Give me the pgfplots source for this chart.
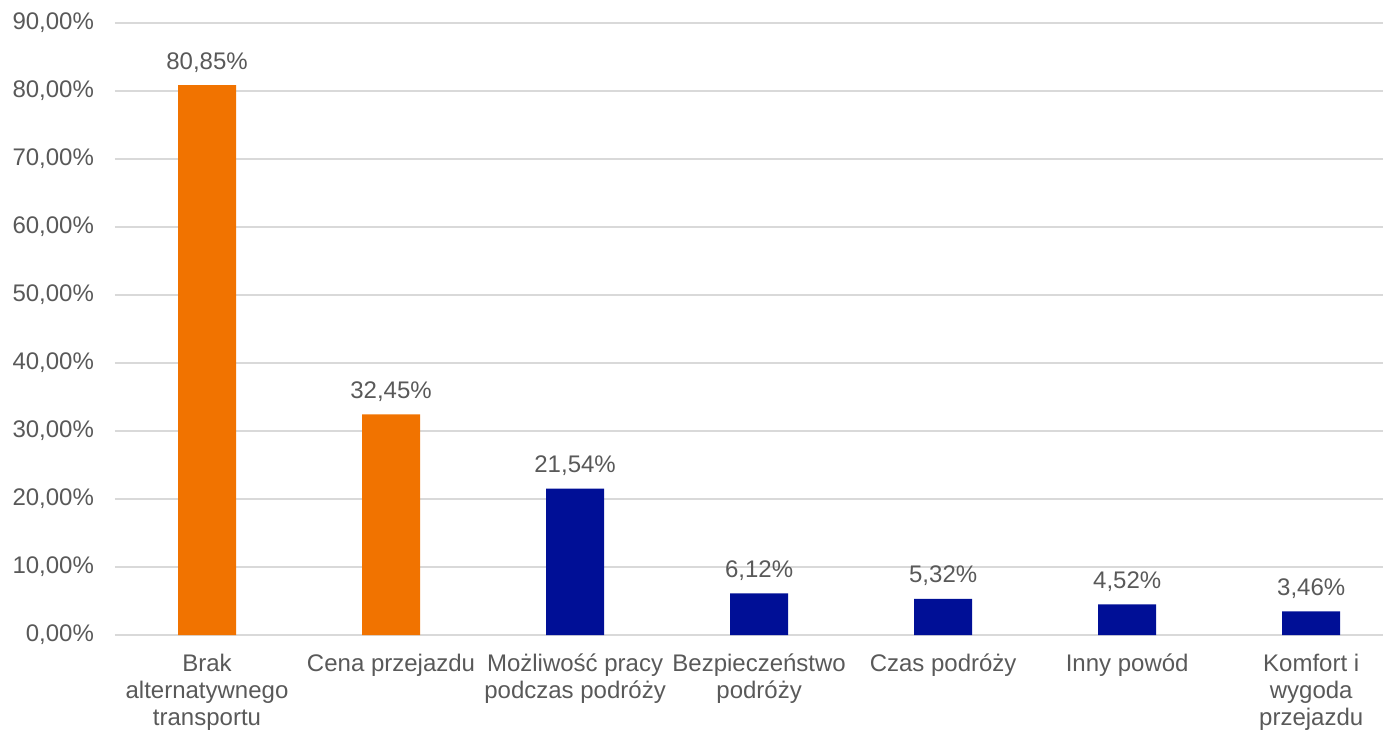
\documentclass[border=0pt]{standalone}
\usepackage{pgfplots}
\pgfplotsset{compat=1.18}
\usepackage{fontspec}
\setmainfont{Liberation Sans}
\definecolor{txt}{HTML}{595959}
\definecolor{gridc}{HTML}{D9D9D9}
\definecolor{orng}{HTML}{F17300}
\definecolor{navy}{HTML}{000F96}
\begin{document}
\begin{tikzpicture}
\path[use as bounding box] (-57.5pt,-47.5pt) rectangle (634pt,317.5pt);
\begin{axis}[
  scale only axis,
  width=634pt, height=306pt,
  at={(0pt,0pt)}, anchor=south west,
  xmin=-0.5, xmax=6.39,
  ymin=0, ymax=90,
  ytick={0,10,...,90},
  xtick={0,...,6},
  xticklabels={Brak\\alternatywnego\\transportu, Cena przejazdu, Możliwość pracy\\podczas podróży, Bezpieczeństwo\\podróży, Czas podróży, Inny powód, Komfort i\\wygoda\\przejazdu},
  xticklabel style={align=center, font=\fontsize{12}{13.5}\selectfont, text=txt, yshift=-6pt},
  yticklabel style={font=\fontsize{12}{13}\selectfont, text=txt, xshift=-7pt},
  /pgf/number format/assume math mode=true,
  yticklabel={\pgfmathprintnumber[use comma,fixed,fixed zerofill,precision=2]{\tick}\%},
  major tick length=0pt,
  ymajorgrids, grid style={gridc, line width=0.8pt},
  axis y line*=left,
  y axis line style={draw=none},
  axis x line*=bottom,
  x axis line style={gridc, line width=0.8pt, -},
  clip=false,
  ybar, bar width=29pt, bar shift=0pt,
  nodes near coords={\pgfmathprintnumber[use comma,fixed,fixed zerofill,precision=2]{\pgfplotspointmeta}\%},
  nodes near coords style={font=\fontsize{12}{13}\selectfont, text=txt, yshift=3pt},
]
\addplot[fill=orng, draw=none] coordinates {(0,80.85) (1,32.45)};
\addplot[fill=navy, draw=none] coordinates {(2,21.54) (3,6.12) (4,5.32) (5,4.52) (6,3.46)};
\end{axis}
\end{tikzpicture}
\end{document}
